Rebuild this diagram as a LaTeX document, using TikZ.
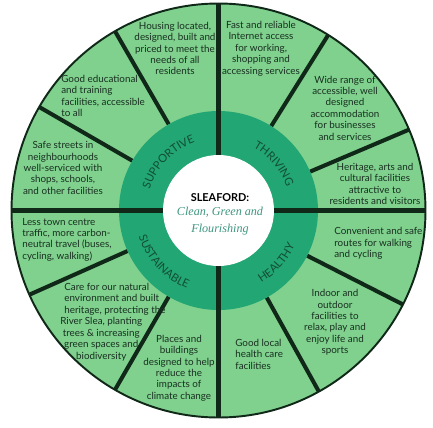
\documentclass[tikz,border=0pt]{standalone}
\usepackage{fontspec}
\setsansfont{Lato}
\newfontfamily\mottofont{Liberation Serif}
\usetikzlibrary{decorations.text}
\definecolor{leafgreen}{RGB}{128,208,142}
\definecolor{ringgreen}{RGB}{34,166,116}
\definecolor{linegreen}{RGB}{16,40,24}
\definecolor{inkgreen}{RGB}{24,48,32}
\definecolor{mottoteal}{RGB}{62,150,128}
\definecolor{ringink}{RGB}{18,78,52}
\newcommand\ringfont{\sffamily\fontsize{6.4}{7}\selectfont}
\tikzset{
  segtext/.style={font=\sffamily\fontsize{5.6}{6.5}\selectfont,text=inkgreen,inner sep=0pt},
  divider/.style={draw=linegreen,line width=2.3pt},
}
\begin{document}
\begin{tikzpicture}[x=0.02cm,y=0.02cm]
\pgfmathsetmacro{\kro}{207}
\pgfmathsetmacro{\krr}{99.5}
\pgfmathsetmacro{\kri}{55.5}
\useasboundingbox(-218.5,-216.5)rectangle(214.5,210.5);
\fill[leafgreen](0,0)circle(\kro);
\foreach \ka in {23,58,120,150,204,240,299,333}{\draw[divider](\ka:\krr)--(\ka:\kro);}
\fill[ringgreen](0,0)circle(\krr);
\draw[divider](-\kro,0)--(\kro,0);
\draw[divider](0,-\kro)--(0,\kro);
\fill[white](0,0)circle(\kri);
\draw[linegreen,line width=1.1pt](0,0)circle(\kro);
\path[decorate,decoration={text along path,text align=center,text={|\ringfont\color{ringink}|SUPPORTIVE}}](176:72)arc[start angle=176,end angle=96,radius=72];
\path[decorate,decoration={text along path,text align=center,text={|\ringfont\color{ringink}|THRIVING}}](80:72)arc[start angle=80,end angle=0,radius=72];
\path[decorate,decoration={text along path,text align=center,text={|\ringfont\color{ringink}|HEALTHY}}](-82:84)arc[start angle=-82,end angle=-2,radius=84];
\path[decorate,decoration={text along path,text align=center,text={|\ringfont\color{ringink}|SUSTAINABLE}}](183:84)arc[start angle=183,end angle=263,radius=84];
\node[font=\sffamily\bfseries\fontsize{6.2}{7}\selectfont](title) at (1.5,12.5){SLEAFORD:};
\node[font=\mottofont\itshape\fontsize{6.9}{9.6}\selectfont,text=mottoteal,align=center](motto) at (1.5,-11){Clean, Green and\\Flourishing};
\node[segtext,align=center](housing) at (-43.5,162){Housing located,\\designed, built and\\priced to meet the\\needs of all\\residents};
\node[segtext,align=left,anchor=west](schools) at (-157.5,114.5){Good educational\\and training\\facilities, accessible\\to all};
\node[segtext,align=center](streets) at (-155.5,42.5){Safe streets in\\neighbourhoods\\well-serviced with\\shops, schools,\\and other facilities};
\node[segtext,align=center](internet) at (42.5,162){Fast and reliable\\Internet access\\for working,\\shopping and\\accessing services};
\node[segtext,align=center](offices) at (126.5,102.5){Wide range of\\accessible, well\\designed\\accommodation\\for businesses\\and services};
\node[segtext,align=center](heritage) at (156.5,26.5){Heritage, arts and\\cultural facilities\\attractive to\\residents and visitors};
\node[segtext,align=left,anchor=west](routes) at (115.5,-33){Convenient and safe\\routes for walking\\and cycling};
\node[segtext,align=center](leisure) at (116.5,-112){Indoor and\\outdoor\\facilities to\\relax, play and\\enjoy life and\\sports};
\node[segtext,align=left,anchor=west](health) at (16.5,-143.5){Good local\\health care\\facilities};
\node[segtext,align=left,anchor=west](traffic) at (-196.5,-29){Less town centre\\traffic, more carbon-\\neutral travel (buses,\\cycling, walking)};
\node[segtext,align=left,anchor=west](nature) at (-154.5,-111.5){Care for our natural\\environment and built\\heritage, protecting the\\\makebox[7.5em]{River Slea, planting}\\\makebox[7.5em]{trees \& increasing}\\\makebox[7.5em]{green spaces and}\\\makebox[7.5em]{biodiversity}};
\node[segtext,align=center](climate) at (-39.5,-157.5){Places and\\buildings\\designed to help\\reduce the\\impacts of\\climate change};
\end{tikzpicture}
\end{document}
